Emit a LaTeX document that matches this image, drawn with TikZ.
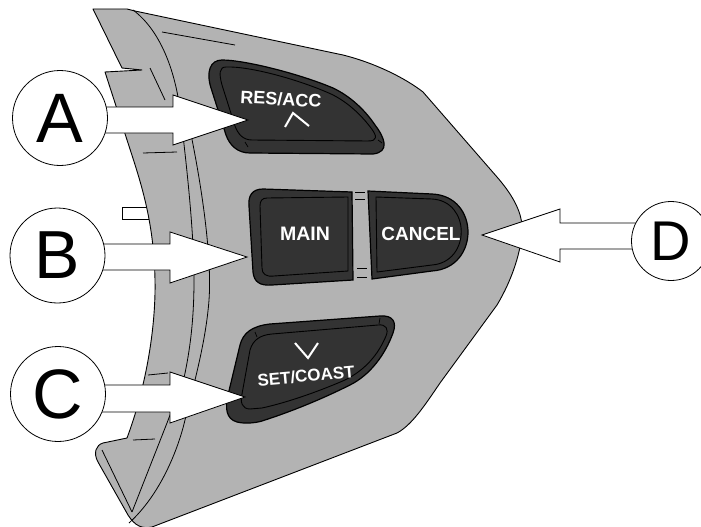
\documentclass[tikz,border=0pt]{standalone}
\usepackage{fontspec}
\setmainfont{Liberation Sans}
\definecolor{shell}{HTML}{B3B3B3}
\definecolor{btngray}{HTML}{333333}
\begin{document}
\begin{tikzpicture}[x=1pt,y=-1pt,
  housing/.style={fill=shell, draw=black, line width=0.9pt, line join=round},
  ridge/.style={draw=black, line width=0.8pt},
  btn/.style={fill=btngray, draw=black, line width=1.2pt},
  btninner/.style={draw=black, line width=0.9pt},
  tick/.style={draw=black, line width=0.7pt},
  blockarrow/.style={fill=white, draw=black, line width=0.8pt, line join=miter},
  callout/.style={circle, draw=black, fill=white, line width=0.8pt, inner sep=0pt, minimum size=95pt},
  capt/.style={text=white, inner sep=0pt, font=\bfseries\fontsize{#1}{#1}\selectfont},
  chevron/.style={draw=white, line width=2pt}]
\useasboundingbox (0,0) rectangle (701,527);
\clip (0,0) rectangle (701,527);

% side tab
\draw[fill=white, draw=black, line width=0.8pt] (122,207) rectangle (153,219);

% switch housing
\draw[housing] (93,9) -- (127,9) -- (135,11) -- (343,55)
  .. controls (375,63) and (405,78) .. (423,92) -- (497,177)
  .. controls (510,192) and (522,210) .. (522,228)
  .. controls (522,250) and (512,280) .. (497,305) -- (440,383)
  .. controls (425,405) and (412,425) .. (397,433) -- (152,527)
  .. controls (142,529) and (135,526) .. (128,515) -- (98,462)
  .. controls (93,453) and (96,445) .. (103,443) -- (127,438)
  .. controls (145,390) and (156,330) .. (155,280)
  .. controls (154,220) and (140,180) .. (128,143)
  -- (105,72) -- (142,70) -- (122,68) -- cycle;

% moulding ridges
\draw[ridge] (133,10) .. controls (160,30) and (175,70) .. (180,110)
  .. controls (186,160) and (194,230) .. (194,280)
  .. controls (194,320) and (190,350) .. (184,378) -- (167,423) -- (132,512);
\draw[ridge] (188,120) .. controls (203,190) and (212,260) .. (209,300)
  .. controls (206,340) and (195,380) .. (185,420)
  .. controls (178,450) and (160,495) .. (129,523);
\draw[ridge] (102,450) -- (132,512);
\draw[ridge] (162,32) -- (235,45);
\draw[ridge] (150,68) -- (165,100);
\draw[ridge] (143,153) -- (177,152);
\draw[ridge] (148,375) -- (168,373);
\draw[ridge] (133,440) -- (155,439);

% RES/ACC button
\draw[btn] (222,60) .. controls (245,60) and (300,74) .. (333,88)
  .. controls (350,96) and (365,110) .. (375,125)
  .. controls (385,138) and (390,152) .. (373,154) -- (250,153)
  .. controls (238,153) and (230,146) .. (226,135) -- (211,88)
  .. controls (206,72) and (210,60) .. (222,60) -- cycle;
\draw[btninner] (226,67) .. controls (250,66) and (300,80) .. (331,94)
  .. controls (348,102) and (362,116) .. (371,128)
  .. controls (377,136) and (378,141) .. (368,141) -- (252,140)
  .. controls (243,140) and (238,134) .. (235,126) -- (222,85)
  .. controls (219,74) and (219,67) .. (226,67) -- cycle;
\draw[tick] (245,142) -- (248,147);
\draw[tick] (378,140) -- (382,143);

% MAIN button
\draw[btn] (352,192) -- (263,189) .. controls (252,189) and (248,196) .. (249,206)
  -- (253,272) .. controls (254,282) and (260,286) .. (272,285) -- (353,280) -- cycle;
\draw[btninner] (348,197) -- (267,198) .. controls (262,198) and (260,201) .. (260,206)
  -- (262,268) .. controls (262,274) and (266,277) .. (274,276) -- (348,271) -- cycle;

% CANCEL button
\draw[btn] (368,191) -- (432,194) .. controls (480,196) and (480,268) .. (432,271)
  -- (372,279) -- cycle;
\draw[btninner] (376,197) -- (432,199) .. controls (471,201) and (471,262) .. (432,265)
  -- (377,272) -- cycle;

% joints between MAIN and CANCEL
\draw[tick] (355,192) -- (365,192);
\draw[tick] (355,199) -- (365,199);
\draw[tick] (357,268) -- (367,268);
\draw[tick] (357,277) -- (367,277);

% SET/COAST button
\draw[btn] (237,422) .. controls (226,419) and (225,408) .. (228,395) -- (240,345)
  .. controls (243,333) and (252,326) .. (270,324) -- (380,316)
  .. controls (393,315) and (397,322) .. (393,333)
  .. controls (385,355) and (370,375) .. (350,385)
  .. controls (320,400) and (290,412) .. (262,421)
  .. controls (255,423) and (245,424) .. (237,422) -- cycle;
\draw[btninner] (250,409) .. controls (242,409) and (240,402) .. (242,394) -- (250,350)
  .. controls (253,340) and (260,335) .. (272,334) -- (378,325)
  .. controls (386,324) and (389,329) .. (386,336)
  .. controls (378,355) and (365,370) .. (345,380)
  .. controls (315,393) and (285,403) .. (262,408) -- cycle;
\draw[tick] (255,332) -- (257,337);
\draw[tick] (380,318) -- (379,324);

% button legends
\node[capt=18, rotate=-3] (resacc) at (281,99) {RES/ACC};
\draw[chevron] (285,127) -- (293,113) -- (309,126);
\node[capt=19.5] (main) at (305,234) {MAIN};
\node[capt=19] (cancel) at (421,234) {CANCEL};
\node[capt=17, rotate=5] (setcoast) at (306,376) {SET/COAST};
\draw[chevron] (295,343) -- (308,358) -- (318,343);

% callout arrows
\draw[blockarrow] (100,107) -- (173,107) -- (173,95) -- (248,120) -- (173,145) -- (173,133) -- (100,133) -- cycle;
\draw[blockarrow] (100,244) -- (170,244) -- (170,232) -- (247,257) -- (170,283) -- (170,270) -- (100,270) -- cycle;
\draw[blockarrow] (100,385) -- (170,385) -- (170,372) -- (245,397) -- (170,423) -- (170,412) -- (100,412) -- cycle;
\draw[blockarrow] (650,223) -- (560,223) -- (560,209) -- (482,235) -- (560,262) -- (560,249) -- (650,249) -- cycle;

% callout circles
\node[callout, font=\fontsize{70}{70}\selectfont] (A) at (60,118) {A};
\node[callout, font=\fontsize{68}{68}\selectfont] (B) at (57.5,255.5) {B};
\node[callout, font=\fontsize{70}{70}\selectfont] (C) at (58,394) {C};
\node[callout, minimum size=79pt, font=\fontsize{56}{56}\selectfont] (D) at (671,241) {D};
\end{tikzpicture}
\end{document}
